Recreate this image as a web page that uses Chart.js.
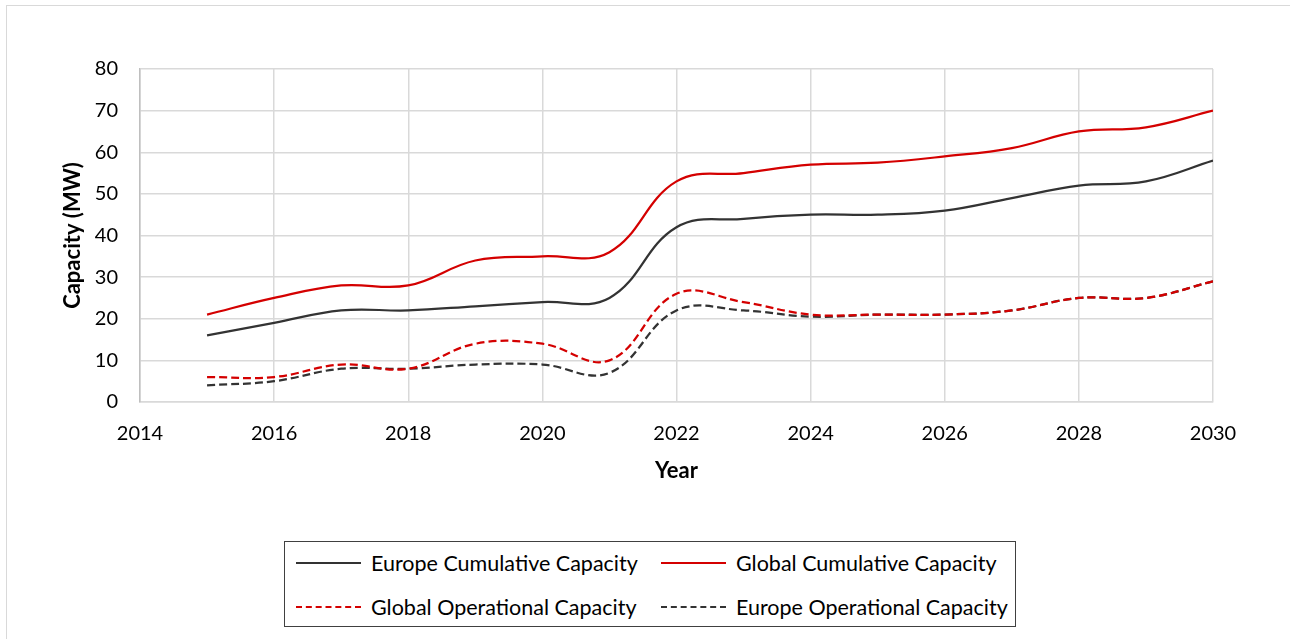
<!DOCTYPE html>
<html lang="en">
<head>
  <title>Capacity</title>
  <style>
    body {
      margin: 0;
      width: 1290px;
      height: 639px;
      background: #fff;
      font-family: Lato, "Open Sans", sans-serif;
      position: relative;
      overflow: hidden;
    }

    /* cornice del grafico */
    .frame {
      position: absolute;
      left: 6px;
      top: 5px;
      width: 1300px;
      height: 650px;
      border-left: 1.5px solid #d9d9d9;
      border-top: 1.5px solid #d9d9d9;
    }

    #chart-container {
      position: absolute;
      left: 0;
      top: 0;
      width: 1290px;
      height: 490px;
    }

    .legend {
      position: absolute;
      left: 284px;
      top: 541px;
      width: 732px;
      height: 86px;
      border: 1.5px solid #404040;
      box-sizing: border-box;
      font-size: 21.5px;
      color: #000;
    }

    .legend .item {
      position: absolute;
      display: flex;
      align-items: center;
      white-space: nowrap;
    }

    .legend .swatch {
      width: 65px;
      margin-right: 10px;
      height: 0;
    }
  </style>
  <script src="https://cdn.jsdelivr.net/npm/chart.js"></script>
</head>
<body>
<div class="frame"></div>
<div id="chart-container">
  <canvas id="lineChart" width="1290" height="490"></canvas>
</div>
<div class="legend" id="legend"></div>
<script>
// Dati: anni e capacita (MW)
var years = [2015, 2016, 2017, 2018, 2019, 2020, 2021, 2022, 2023, 2024, 2025, 2026, 2027, 2028, 2029, 2030];
var europeCumulative = [16, 19, 22, 22, 23, 24, 25, 42, 44, 45, 45, 46, 49, 52, 53, 58];
var globalCumulative = [21, 25, 28, 28, 34, 35, 36, 53, 55, 57, 57.5, 59, 61, 65, 66, 70];
var globalOperational = [6, 6, 9, 8, 14, 14, 10, 26, 24, 21, 21, 21, 22, 25, 25, 29];
var europeOperational = [4, 5, 8, 8, 9, 9, 7, 22, 22, 20.5, 21, 21, 22, 25, 25, 29];
var xTicks = [2014, 2016, 2018, 2020, 2022, 2024, 2026, 2028, 2030];
var yTicks = [0, 10, 20, 30, 40, 50, 60, 70, 80];

var RED = '#d40000';
var DARK = '#333333';

function toPoints(values) {
  var pts = [];
  for (var i = 0; i < years.length; i++) {
    pts.push({ x: years[i], y: values[i] });
  }
  return pts;
}

var series = [
  { label: 'Europe Cumulative Capacity', data: europeCumulative, color: DARK, dash: [] },
  { label: 'Global Cumulative Capacity', data: globalCumulative, color: RED, dash: [] },
  { label: 'Global Operational Capacity', data: globalOperational, color: RED, dash: [8, 4] },
  { label: 'Europe Operational Capacity', data: europeOperational, color: DARK, dash: [8, 4] }
];

var datasets = series.map(function(s) {
  return {
    label: s.label,
    data: toPoints(s.data),
    borderColor: s.color,
    backgroundColor: s.color,
    borderWidth: 2.25,
    borderDash: s.dash,
    pointRadius: 0,
    tension: 0.4,
    fill: false
  };
});

var tickFont = { family: 'Lato, "Open Sans", sans-serif', size: 20 };
var titleFont = { family: 'Lato, "Open Sans", sans-serif', size: 22, weight: 'bold' };

var ctx = document.getElementById('lineChart').getContext('2d');
var lineChart = new Chart(ctx, {
  type: 'line',
  data: { datasets: datasets },
  options: {
    responsive: false,
    animation: false,
    layout: { padding: { left: 0, right: 77, top: 69, bottom: 0 } },
    plugins: {
      legend: { display: false },
      tooltip: { enabled: false }
    },
    scales: {
      x: {
        type: 'linear',
        min: 2014,
        max: 2030,
        afterBuildTicks: function(axis) {
          axis.ticks = xTicks.map(function(v) { return { value: v }; });
        },
        afterFit: function(axis) { axis.height = 88; },
        ticks: {
          font: tickFont,
          color: '#000',
          padding: 20,
          maxRotation: 0,
          callback: function(v) { return String(v); }
        },
        grid: { color: '#d9d9d9', lineWidth: 1.5, drawTicks: false },
        border: { color: '#d9d9d9', width: 1.5 },
        title: {
          display: true,
          text: 'Year',
          font: titleFont,
          color: '#000',
          padding: { top: 0, bottom: 6 }
        }
      },
      y: {
        min: 0,
        max: 80,
        afterBuildTicks: function(axis) {
          axis.ticks = yTicks.map(function(v) { return { value: v }; });
        },
        afterFit: function(axis) { axis.width = 140; },
        ticks: {
          font: tickFont,
          color: '#000',
          padding: 22
        },
        grid: { color: '#d9d9d9', lineWidth: 1.5, drawTicks: false },
        border: { color: '#bfbfbf', width: 1.5 },
        title: {
          display: true,
          text: 'Capacity (MW)',
          font: titleFont,
          color: '#000',
          padding: { top: 60, bottom: 0 }
        }
      }
    }
  }
});

// Legenda in HTML: due colonne, due righe
var legendPos = [
  { left: 11, top: 8 },
  { left: 376, top: 8 },
  { left: 11, top: 52 },
  { left: 376, top: 52 }
];
var legend = document.getElementById('legend');
series.forEach(function(s, i) {
  var item = document.createElement('div');
  item.className = 'item';
  item.style.left = legendPos[i].left + 'px';
  item.style.top = legendPos[i].top + 'px';
  var sw = document.createElement('span');
  sw.className = 'swatch';
  sw.style.borderTop = '2px ' + (s.dash.length ? 'dashed ' : 'solid ') + s.color;
  var txt = document.createElement('span');
  txt.textContent = s.label;
  item.appendChild(sw);
  item.appendChild(txt);
  legend.appendChild(item);
});
</script>
</body>
</html>
